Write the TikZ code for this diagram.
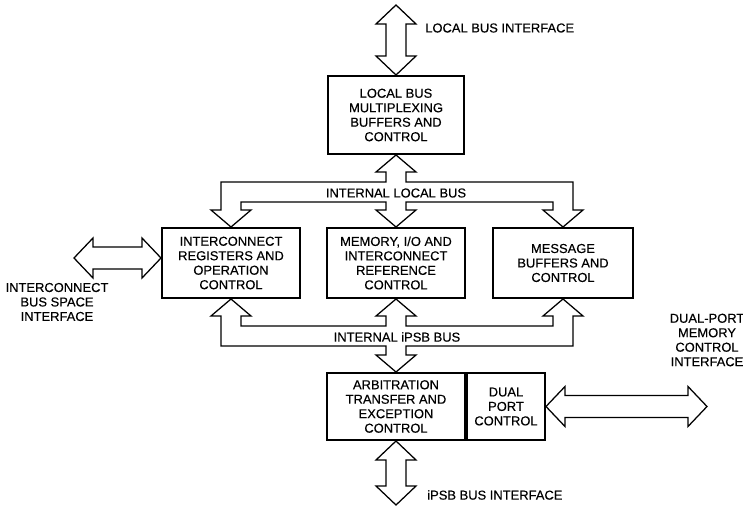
\documentclass[tikz,border=0pt]{standalone}
\usepackage{fontspec}
\setmainfont{Liberation Sans}[FakeBold=0.35]
\usetikzlibrary{calc}
\tikzset{
  blockbox/.style={draw, line width=1.4, align=center, inner sep=0pt},
  busline/.style={draw, line width=0.9, line join=miter},
  lbl/.style={align=center, inner sep=0pt}
}
% fat double-headed arrows: vertical (top, bottom) and horizontal (left, right)
\newcommand{\vfat}[2]{%
  \draw[busline] (#1) -- ($(#1)+(20,-19)$) -- ($(#1)+(10,-19)$) -- ($(#2)+(10,19)$) -- ($(#2)+(20,19)$) -- (#2)
    -- ($(#2)+(-20,19)$) -- ($(#2)+(-10,19)$) -- ($(#1)+(-10,-19)$) -- ($(#1)+(-20,-19)$) -- cycle;}
\newcommand{\hfat}[2]{%
  \draw[busline] (#1) -- ($(#1)+(19,20)$) -- ($(#1)+(19,11)$) -- ($(#2)+(-19,11)$) -- ($(#2)+(-19,20)$) -- (#2)
    -- ($(#2)+(-19,-20)$) -- ($(#2)+(-19,-11)$) -- ($(#1)+(19,-11)$) -- ($(#1)+(19,-20)$) -- cycle;}

\begin{document}
\begin{tikzpicture}[x=0.025cm, y=0.025cm, font=\fontsize{9.2}{10.3}\selectfont]
  \useasboundingbox (0,0) rectangle (743,-506);
  % blocks
  \node[blockbox, minimum width=3.4cm, minimum height=1.95cm] (lbm) at (396,-115) {LOCAL BUS\\MULTIPLEXING\\BUFFERS AND\\CONTROL};
  \node[blockbox, minimum width=3.45cm, minimum height=1.75cm] (icr) at (231,-263) {INTERCONNECT\\REGISTERS AND\\OPERATION\\CONTROL};
  \node[blockbox, minimum width=3.45cm, minimum height=1.75cm] (mrc) at (396,-263) {MEMORY, I/O AND\\INTERCONNECT\\REFERENCE\\CONTROL};
  \node[blockbox, minimum width=3.5cm, minimum height=1.75cm] (mbc) at (563,-263) {MESSAGE\\BUFFERS AND\\CONTROL};
  \node[blockbox, minimum width=3.45cm, minimum height=1.675cm] (atc) at (396,-406.5) {ARBITRATION\\TRANSFER AND\\EXCEPTION\\CONTROL};
  \node[blockbox, minimum width=1.95cm, minimum height=1.675cm, anchor=west] (dpc) at (atc.east) {DUAL\\PORT\\CONTROL};
  % free ends of the interface arrows
  \coordinate (lbtop) at (396,-5);
  \coordinate (icsend) at (74,-258);
  \coordinate (dpmend) at (707,-406.5);
  \coordinate (ipsbend) at (396,-505);
  % interface arrows
  \vfat{lbtop}{lbm.north}
  \hfat{icsend}{icsend -| icr.west}
  \hfat{dpc.east}{dpmend}
  \vfat{atc.south}{ipsbend}
  % internal local bus
  \draw[busline] (lbm.south) -- (416,-172) -- (406,-172) -- (406,-182) -- (573,-182) -- (573,-210) -- (583,-210)
    -- (mbc.north) -- (543,-210) -- (553,-210) -- (553,-202) -- (406,-202) -- (406,-210) -- (416,-210)
    -- (mrc.north) -- (376,-210) -- (386,-210) -- (386,-202) -- (241,-202) -- (241,-210) -- (251,-210)
    -- (icr.north) -- (211,-210) -- (221,-210) -- (221,-182) -- (386,-182) -- (386,-172) -- (376,-172) -- cycle;
  % internal iPSB bus
  \draw[busline] (icr.south) -- (251,-316) -- (241,-316) -- (241,-326) -- (386,-326) -- (386,-316) -- (376,-316)
    -- (mrc.south) -- (416,-316) -- (406,-316) -- (406,-326) -- (553,-326) -- (553,-316) -- (543,-316)
    -- (mbc.south) -- (583,-316) -- (573,-316) -- (573,-346) -- (406,-346) -- (406,-355) -- (416,-355)
    -- (atc.north) -- (376,-355) -- (386,-355) -- (386,-346) -- (221,-346) -- (221,-316) -- (211,-316) -- cycle;
  % labels
  \node[lbl, anchor=west] (lbitext) at (425,-28) {LOCAL BUS INTERFACE};
  \node[lbl] (ilbtext) at (396,-193) {INTERNAL LOCAL BUS};
  \node[lbl] (iibtext) at (397,-337) {INTERNAL iPSB BUS};
  \node[lbl] (icstext) at (57,-302) {INTERCONNECT\\BUS SPACE\\INTERFACE};
  \node[lbl] (dpmtext) at (707,-340) {DUAL-PORT\\MEMORY\\CONTROL\\INTERFACE};
  \node[lbl, anchor=west] (ipsbtext) at (427,-495) {iPSB BUS INTERFACE};
\end{tikzpicture}
\end{document}
